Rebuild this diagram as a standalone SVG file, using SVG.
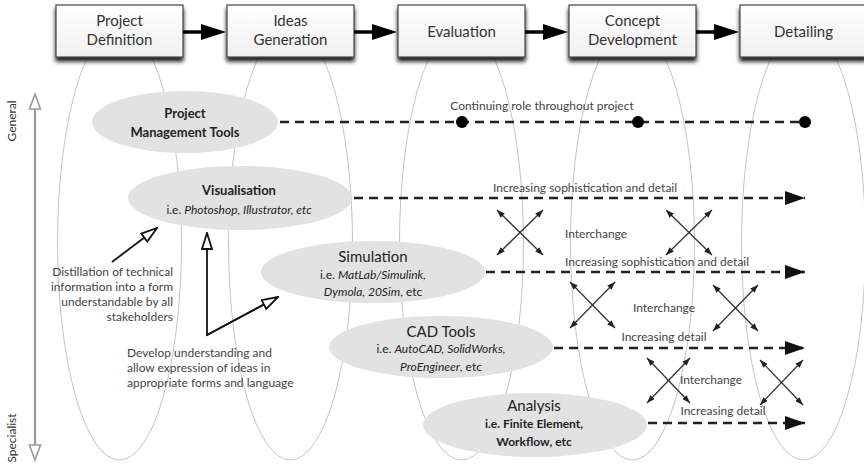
<svg xmlns="http://www.w3.org/2000/svg" width="864" height="464" viewBox="0 0 864 464">
<style>
text{font-family:Lato,"Liberation Sans",sans-serif;fill:#333}
.box{fill:url(#bg);stroke:#444;stroke-width:1.2}
.bt{font-size:15px;text-anchor:middle;fill:#333}
.col{fill:none;stroke:#c4c4c4;stroke-width:1}
.node{fill:#e2e2e2}
.nb{font-size:13px;font-weight:bold;text-anchor:middle;fill:#222}
.nt{font-size:15px;text-anchor:middle;fill:#222}
.ns{font-size:12px;text-anchor:middle;fill:#222}
.lbl{font-size:12px;text-anchor:middle;fill:#444}
.ann{font-size:12px;fill:#444}
.dash{fill:none;stroke:#222;stroke-width:2.4;stroke-dasharray:9 6}
.x{fill:none;stroke:#333;stroke-width:1.3;marker-start:url(#sm);marker-end:url(#sm)}
.hol{fill:none;stroke:#111;stroke-width:1.8;marker-end:url(#hol)}
</style>
<defs>
<linearGradient id="bg" x1="0" y1="0" x2="0" y2="1"><stop offset="0" stop-color="#ffffff"/><stop offset="1" stop-color="#f0f0f0"/></linearGradient>
<filter id="sh" x="-10%" y="-10%" width="120%" height="140%"><feDropShadow dx="0" dy="4" stdDeviation="2" flood-color="#000" flood-opacity="0.9"/></filter>
<marker id="tri" viewBox="0 0 20 14" refX="20" refY="7" markerWidth="20" markerHeight="14" orient="auto" markerUnits="userSpaceOnUse"><path d="M0,0 L20,7 L0,14 Z" fill="#111"/></marker>
<marker id="sm" viewBox="0 0 8 6" refX="8" refY="3" markerWidth="8" markerHeight="6" orient="auto-start-reverse" markerUnits="userSpaceOnUse"><path d="M0,0 L8,3 L0,6 Z" fill="#222"/></marker>
<marker id="hol" viewBox="0 0 18 12" refX="17" refY="6" markerWidth="18" markerHeight="12" orient="auto" markerUnits="userSpaceOnUse"><path d="M1,1 L17,6 L1,11 Z" fill="#fff" stroke="#111" stroke-width="1.8" stroke-linejoin="miter"/></marker>
</defs>
<rect width="864" height="464" fill="#fff"/>

<g id="columns">
<ellipse class="col" cx="119.5" cy="243" rx="62" ry="217"/>
<ellipse class="col" cx="290.5" cy="243" rx="62" ry="217"/>
<ellipse class="col" cx="461.5" cy="243" rx="62" ry="217"/>
<ellipse class="col" cx="632.5" cy="243" rx="62" ry="217"/>
<ellipse class="col" cx="803.5" cy="243" rx="62" ry="217"/>
</g>

<g id="axis">
<line x1="35" y1="108" x2="35" y2="446" stroke="#999" stroke-width="2.2"/>
<polygon points="35,94 29.5,109 40.5,109" fill="#fff" stroke="#999" stroke-width="1.6"/>
<polygon points="35,460 29.5,445 40.5,445" fill="#fff" stroke="#999" stroke-width="1.6"/>
<text transform="translate(16,121) rotate(-90)" font-size="12" text-anchor="middle" fill="#444">General</text>
<text transform="translate(16,438) rotate(-90)" font-size="12" text-anchor="middle" fill="#444">Specialist</text>
</g>

<g id="stage1"><rect class="box" x="56" y="5" width="127" height="52" filter="url(#sh)"/><text class="bt" x="119.5" y="26">Project</text><text class="bt" x="119.5" y="45">Definition</text></g>
<g id="stage2"><rect class="box" x="227" y="5" width="127" height="52" filter="url(#sh)"/><text class="bt" x="290.5" y="26">Ideas</text><text class="bt" x="290.5" y="45">Generation</text></g>
<g id="stage3"><rect class="box" x="398" y="5" width="127" height="52" filter="url(#sh)"/><text class="bt" x="461.5" y="37">Evaluation</text></g>
<g id="stage4"><rect class="box" x="569" y="5" width="127" height="52" filter="url(#sh)"/><text class="bt" x="632.5" y="26">Concept</text><text class="bt" x="632.5" y="45">Development</text></g>
<g id="stage5"><rect class="box" x="740" y="5" width="127" height="52" filter="url(#sh)"/><text class="bt" x="803.5" y="37">Detailing</text></g>

<g id="connectors">
<g fill="#000">
<line x1="183" y1="32" x2="204" y2="32" stroke="#000" stroke-width="3.5"/><polygon points="201,24 226,32 201,40"/>
<line x1="354" y1="32" x2="375" y2="32" stroke="#000" stroke-width="3.5"/><polygon points="372,24 397,32 372,40"/>
<line x1="525" y1="32" x2="546" y2="32" stroke="#000" stroke-width="3.5"/><polygon points="543,24 568,32 543,40"/>
<line x1="696" y1="32" x2="717" y2="32" stroke="#000" stroke-width="3.5"/><polygon points="714,24 739,32 714,40"/>
</g>
<line class="dash" x1="280" y1="122" x2="805" y2="122"/>
<circle cx="462" cy="122" r="6" fill="#000"/><circle cx="638" cy="122" r="6" fill="#000"/><circle cx="805" cy="122" r="6" fill="#000"/>
<line class="dash" x1="354" y1="198" x2="805" y2="198" marker-end="url(#tri)"/>
<line class="dash" x1="486" y1="272" x2="805" y2="272" marker-end="url(#tri)"/>
<line class="dash" x1="554" y1="348" x2="805" y2="348" marker-end="url(#tri)"/>
<line class="dash" x1="648" y1="423" x2="805" y2="423" marker-end="url(#tri)"/>
<line class="x" x1="497" y1="210" x2="543" y2="255"/><line class="x" x1="543" y1="210" x2="497" y2="255"/>
<line class="x" x1="666" y1="210" x2="712" y2="255"/><line class="x" x1="712" y1="210" x2="666" y2="255"/>
<line class="x" x1="570" y1="282" x2="615" y2="328"/><line class="x" x1="615" y1="282" x2="570" y2="328"/>
<line class="x" x1="713" y1="285" x2="758" y2="331"/><line class="x" x1="758" y1="285" x2="713" y2="331"/>
<line class="x" x1="647" y1="358" x2="690" y2="403"/><line class="x" x1="690" y1="358" x2="647" y2="403"/>
<line class="x" x1="760" y1="360" x2="803" y2="405"/><line class="x" x1="803" y1="360" x2="760" y2="405"/>
<line class="hol" x1="112" y1="262" x2="157" y2="228"/>
<polyline class="hol" points="278,297 207,335 207,233"/>
<line class="hol" x1="207" y1="335" x2="278" y2="297"/>
<text class="lbl" x="542" y="110">Continuing role throughout project</text>
<text class="lbl" x="585" y="192">Increasing sophistication and detail</text>
<text class="lbl" x="596" y="238">Interchange</text>
<text class="lbl" x="657" y="266">Increasing sophistication and detail</text>
<text class="lbl" x="664" y="312">Interchange</text>
<text class="lbl" x="664" y="341">Increasing detail</text>
<text class="lbl" x="711" y="384">Interchange</text>
<text class="lbl" x="723" y="415">Increasing detail</text>
</g>

<g id="pm"><ellipse class="node" cx="185" cy="122" rx="93" ry="31"/><text class="nb" x="185" y="118">Project</text><text class="nb" x="185" y="137">Management Tools</text></g>
<g id="vis"><ellipse class="node" cx="240" cy="198" rx="112" ry="32"/><text class="nb" x="239" y="195">Visualisation</text><text class="ns" x="239" y="214">i.e. <tspan font-style="italic">Photoshop, Illustrator, etc</tspan></text></g>
<g id="sim"><ellipse class="node" cx="373" cy="272" rx="112" ry="31"/><text class="nt" x="373" y="262">Simulation</text><text class="ns" x="373" y="279">i.e. <tspan font-style="italic">MatLab/Simulink,</tspan></text><text class="ns" x="373" y="296"><tspan font-style="italic">Dymola, 20Sim</tspan>, etc</text></g>
<g id="cad"><ellipse class="node" cx="441" cy="347" rx="112" ry="31"/><text class="nt" x="441" y="337" font-size="16">CAD Tools</text><text class="ns" x="441" y="353">i.e. <tspan font-style="italic">AutoCAD, SolidWorks,</tspan></text><text class="ns" x="441" y="371"><tspan font-style="italic">ProEngineer</tspan>, etc</text></g>
<g id="analysis"><ellipse class="node" cx="535" cy="425" rx="112" ry="32"/><text class="nt" x="534" y="411">Analysis</text><text class="ns" x="534" y="428" font-weight="bold">i.e. Finite Element,</text><text class="ns" x="534" y="446" font-weight="bold">Workflow, etc</text></g>

<g id="notes">
<text class="ann" text-anchor="end"><tspan x="173" y="276">Distillation of technical</tspan><tspan x="173" y="291">information into a form</tspan><tspan x="173" y="306">understandable by all</tspan><tspan x="173" y="321">stakeholders</tspan></text>
<text class="ann"><tspan x="127" y="357">Develop understanding and</tspan><tspan x="127" y="372">allow expression of ideas in</tspan><tspan x="127" y="387">appropriate forms and language</tspan></text>
</g>
</svg>
